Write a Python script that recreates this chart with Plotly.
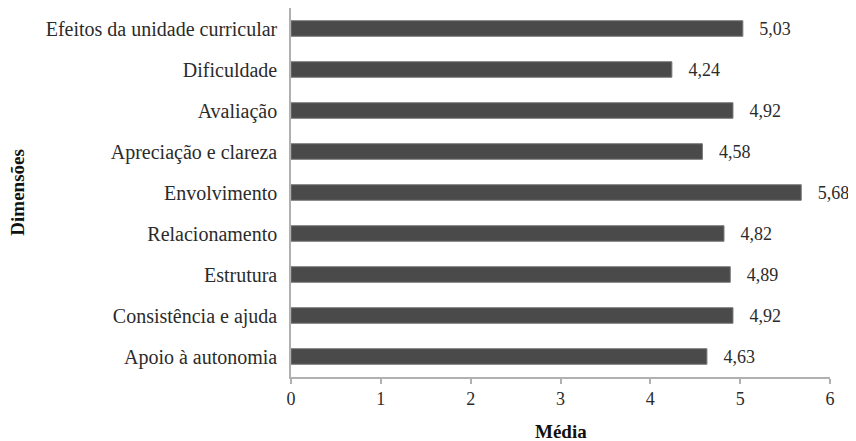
import plotly.graph_objects as go

categories = ["Apoio à autonomia", "Consistência e ajuda", "Estrutura", "Relacionamento",
              "Envolvimento", "Apreciação e clareza", "Avaliação", "Dificuldade",
              "Efeitos da unidade curricular"]
values = [4.63, 4.92, 4.89, 4.82, 5.68, 4.58, 4.92, 4.24, 5.03]
x_ticks = [0, 1, 2, 3, 4, 5, 6]

font_family = "Liberation Serif"
text_color = "#2b2b2b"
axis_color = "#b0b0b0"

fig = go.Figure(go.Bar(
    x=values, y=categories, orientation="h",
    marker=dict(color="#4a4a4a", line=dict(color="#7a7a7a", width=1)),
    width=0.38,
    texttemplate="   %{x:.2f}", textposition="outside", cliponaxis=False,
    constraintext="none",
    textfont=dict(family=font_family, size=18, color=text_color),
))

# axis titles (page offset of the html body is compensated in the margins)
fig.add_annotation(text="<b>Dimensões</b>", textangle=-90, xref="paper", yref="paper",
                   x=-0.508, y=0.5, xanchor="center", yanchor="middle", showarrow=False,
                   font=dict(family=font_family, size=19, color="#111111"))
fig.add_annotation(text="<b>Média</b>", xref="paper", yref="paper",
                   x=0.5, y=-0.149, xanchor="center", yanchor="middle", showarrow=False,
                   font=dict(family=font_family, size=19, color="#111111"))

fig.update_layout(
    width=848, height=433,
    margin=dict(l=283, r=26, t=0, b=64),
    paper_bgcolor="white", plot_bgcolor="white",
    separators=",.",
    showlegend=False,
    font=dict(family=font_family, size=18, color=text_color),
    xaxis=dict(range=[0, 6], tickvals=x_ticks, showgrid=False, zeroline=False,
               showline=True, linecolor=axis_color, linewidth=1.5,
               ticks="outside", ticklen=5, tickcolor=axis_color, tickwidth=1.5,
               automargin=False,
               tickfont=dict(family=font_family, size=18, color=text_color)),
    yaxis=dict(range=[-0.5, 8.5], showgrid=False, zeroline=False,
               showline=True, linecolor=axis_color, linewidth=1.5,
               ticks="", ticklabelstandoff=8, automargin=False,
               tickfont=dict(family=font_family, size=20, color=text_color)),
)

fig.write_html("out.html")
